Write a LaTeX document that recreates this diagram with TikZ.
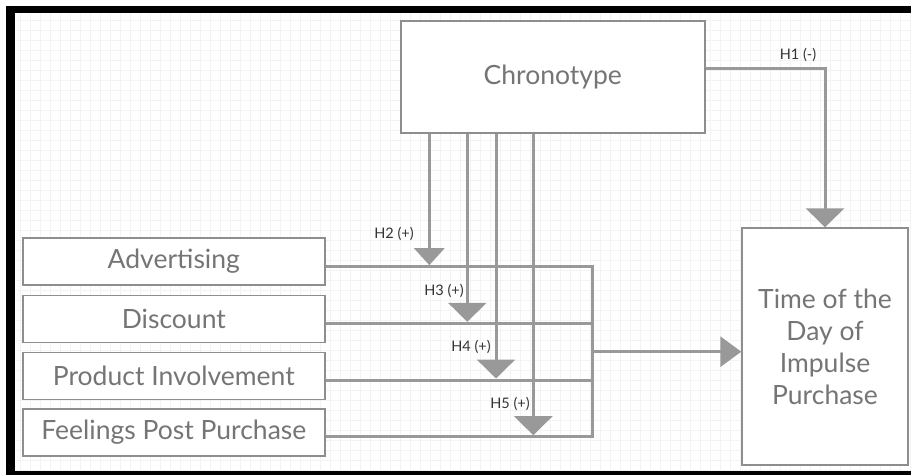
\documentclass[tikz,border=0pt]{standalone}
\usepackage{fontspec}
\setmainfont{Lato}
\usetikzlibrary{arrows.meta,calc}
\definecolor{linegray}{HTML}{999999}
\definecolor{boxgray}{HTML}{8E8E8E}
\definecolor{textgray}{HTML}{757575}
\definecolor{labgray}{HTML}{333333}
\definecolor{gridgray}{HTML}{F3F3F3}
\begin{document}
\begin{tikzpicture}[x=1pt,y=-1pt,
  box/.style={draw=boxgray,line width=1.4pt,fill=white,inner sep=0pt,text=textgray,
    font=\fontsize{26.5}{32}\selectfont,align=center},
  conn/.style={draw=linegray,line width=3pt},
  tipbig/.style={-{Triangle[length=19pt,width=38pt]}},
  tipsmall/.style={-{Triangle[length=17pt,width=30pt]}},
  tipside/.style={-{Triangle[length=21pt,width=30pt]}},
  hlab/.style={text=labgray,font=\fontsize{14.5}{16}\selectfont,inner sep=0pt}
]
\useasboundingbox (0,0) rectangle (911,475);
\fill[white] (0,0) rectangle (911,475);
\draw[gridgray,line width=0.4pt,step=10pt] (16,13) grid (911,471);
% frame
\fill[black] (8,6) rectangle (911,13.3);
\fill[black] (6,6) rectangle (15,475);
\fill[black] (6,471) rectangle (911,475);

% nodes
\node[box,minimum width=304pt,minimum height=112pt] (chrono) at (552.8,77) {Chronotype};
\node[box,minimum width=166pt,minimum height=237pt] (target) at (825,346.5) {Time of the\\Day of\\Impulse\\Purchase};
\node[box,minimum width=302pt,minimum height=47pt] (adv) at (173.8,261.5) {Advertising};
\node[box,minimum width=302pt,minimum height=47pt] (disc) at (173.8,319) {Discount};
\node[box,minimum width=302pt,minimum height=47pt] (prod) at (173.8,376) {Product Involvement};
\node[box,minimum width=302pt,minimum height=47pt] (feel) at (173.8,432.5) {Feelings Post Purchase};

% junction coordinates
\coordinate (jA) at (592,266.7);
\coordinate (jD) at (592,323.3);
\coordinate (jP) at (592,380);
\coordinate (jF) at (592,436.7);
\coordinate (jO) at (592,351.7);
\coordinate (h1c) at (825,68.3);
\coordinate (t2) at (429.3,265.2);
\coordinate (t3) at (467.3,321.8);
\coordinate (t4) at (496,378.5);
\coordinate (t5) at (533.3,435.2);

% bus
\draw[conn] (adv.east |- jA) -- (jA) -- (jF) -- (feel.east |- jF);
\draw[conn] (disc.east |- jD) -- (jD);
\draw[conn] (prod.east |- jP) -- (jP);
\draw[conn,tipside] (jO) -- (target.west |- jO);

% moderators
\draw[conn,tipsmall] (chrono.south -| t2) -- (t2);
\draw[conn,tipbig] (chrono.south -| t3) -- (t3);
\draw[conn,tipbig] (chrono.south -| t4) -- (t4);
\draw[conn,tipbig] (chrono.south -| t5) -- (t5);
\draw[conn,tipbig] (chrono.east |- h1c) -- (h1c) -- (target.north);

% labels
\node[hlab] (h1) at (798,55) {H1 (-)};
\node[hlab] (h2) at (394,234) {H2 (+)};
\node[hlab] (h3) at (444,291) {H3 (+)};
\node[hlab] (h4) at (471,347) {H4 (+)};
\node[hlab] (h5) at (510,404) {H5 (+)};
\end{tikzpicture}
\end{document}
